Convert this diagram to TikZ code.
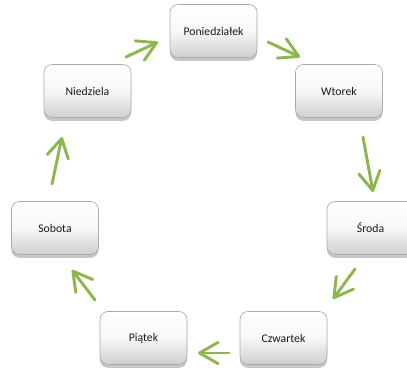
\documentclass[tikz,border=0pt]{standalone}
\usepackage{fontspec}
\setmainfont{Carlito}
\usetikzlibrary{arrows.meta,shadows}
\definecolor{arrgreen}{HTML}{8DB650}
\definecolor{boxedge}{HTML}{AAAAAA}
\tikzset{
  day/.style={draw=boxedge, line width=0.5pt, rounded corners=6pt,
    top color=white, bottom color=gray!38, middle color=white!94!gray,
    minimum width=65.25pt, minimum height=39.75pt, inner sep=0pt,
    font=\fontsize{8.8pt}{10pt}\selectfont, text=black!90,
    drop shadow={shadow xshift=0pt, shadow yshift=-2.5pt, opacity=0.45, fill=gray}},
  arr/.style={draw=arrgreen, line width=2.2pt, line cap=round, line join=round,
    -{Straight Barb[length=14pt,width=16pt,line cap=round,line join=round]}}
}
\begin{document}
\begin{tikzpicture}[x=0.75pt,y=-0.75pt]
\useasboundingbox (0,0) rectangle (407,374);
\node[day] (pon) at (213.5,31) {Poniedziałek};
\node[day] (wt) at (339,91) {Wtorek};
\node[day] (sr) at (370.5,228) {Środa};
\node[day] (cz) at (283.5,338) {Czwartek};
\node[day] (pt) at (143.5,338) {Piątek};
\node[day] (so) at (55,228) {Sobota};
\node[day] (nd) at (87.5,91) {Niedziela};
\coordinate (a1s) at (126,57);  \coordinate (a1e) at (158,42);
\coordinate (a2s) at (268,42);  \coordinate (a2e) at (300,57);
\coordinate (a3s) at (363,137); \coordinate (a3e) at (373,192);
\coordinate (a4s) at (355,269); \coordinate (a4e) at (333,299);
\coordinate (a5s) at (229,353); \coordinate (a5e) at (198,353);
\coordinate (a6s) at (95,300);  \coordinate (a6e) at (72,270);
\coordinate (a7s) at (52,184);  \coordinate (a7e) at (62,137);
\draw[arr] (a1s) -- (a1e);
\draw[arr] (a2s) -- (a2e);
\draw[arr] (a3s) -- (a3e);
\draw[arr] (a4s) -- (a4e);
\draw[arr] (a5s) -- (a5e);
\draw[arr] (a6s) -- (a6e);
\draw[arr] (a7s) -- (a7e);
\end{tikzpicture}
\end{document}
